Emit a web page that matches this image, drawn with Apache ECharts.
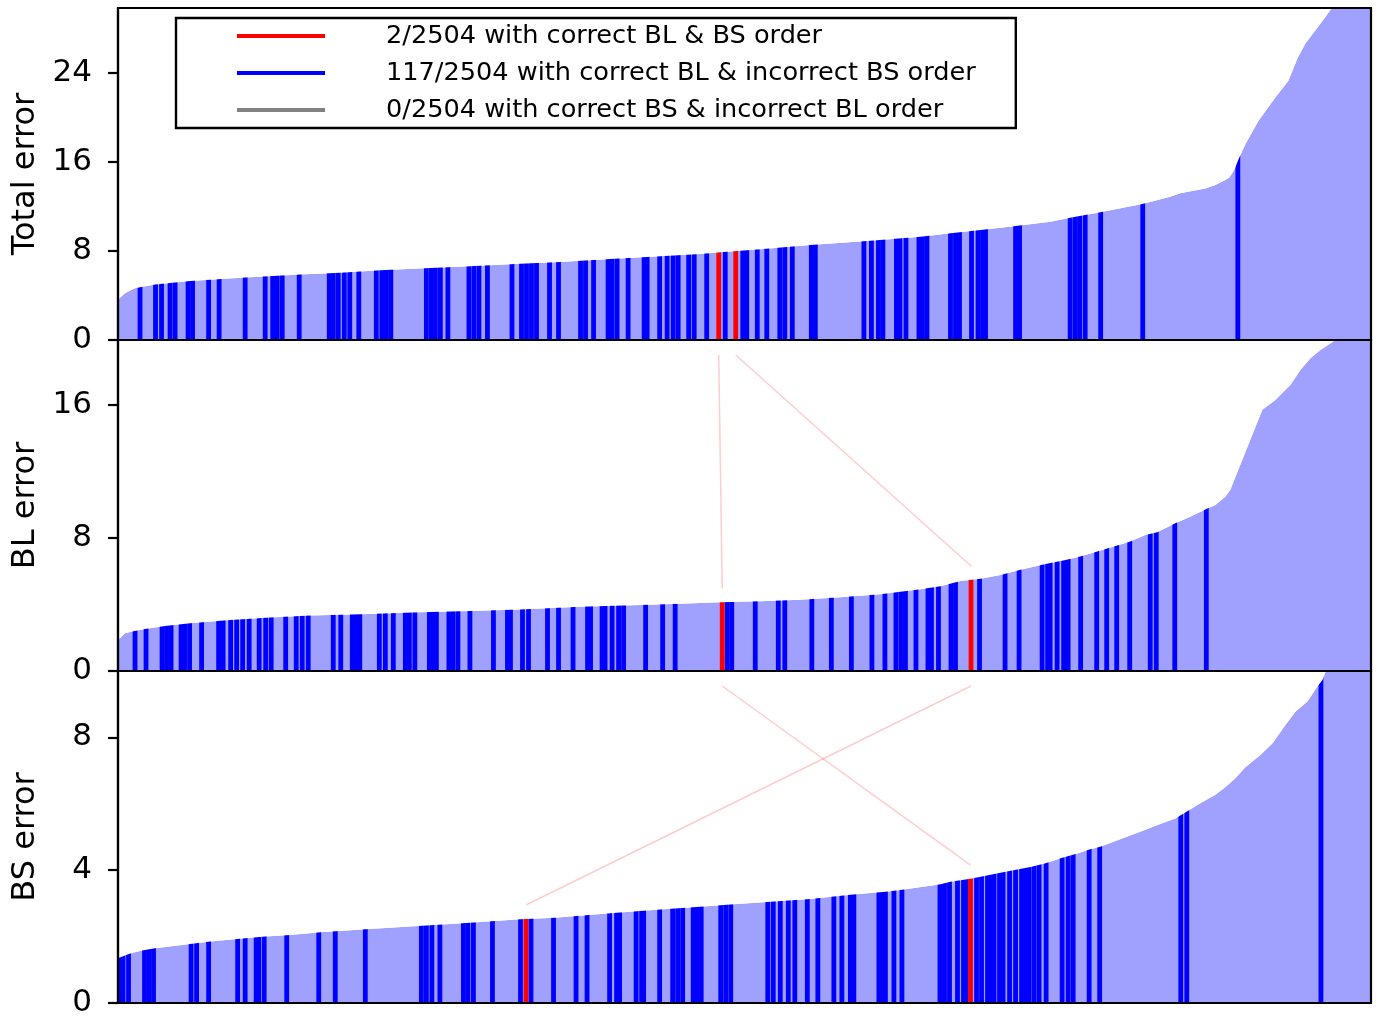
<!DOCTYPE html>
<html><head><meta charset="utf-8">
<script src="https://cdn.jsdelivr.net/npm/echarts@6/dist/echarts.min.js"></script>
<style>html,body{margin:0;padding:0;background:#fff}#c{width:1378px;height:1019px}</style>
</head><body><div id="c"></div>
<script>
// ---------- data (rank along sorted order 0..2503, error value) ----------
const N = 2504;
const totalCurve = [[0,3.6],[5,3.85],[14,4.2],[24,4.45],[34,4.65],[44,4.75],[74,5.0],[144,5.3],[254,5.63],[364,5.9],[444,6.05],[524,6.26],[624,6.47],[703,6.62],[803,6.86],[883,7.01],[983,7.28],[1083,7.52],[1163,7.73],[1203,7.88],[1283,8.15],[1383,8.54],[1503,8.93],[1603,9.29],[1663,9.59],[1723,9.89],[1793,10.25],[1863,10.64],[1902,11.0],[1962,11.48],[2046,12.22],[2102,12.88],[2122,13.2],[2172,13.63],[2192,13.93],[2212,14.38],[2220,14.6],[2230,15.3],[2238,16.2],[2252,17.6],[2278,19.7],[2312,21.8],[2338,23.3],[2356,25.3],[2372,26.65],[2408,28.8],[2424,29.8],[2460,32],[2503,36]];
const blCurve = [[0,1.86],[14,2.27],[28,2.37],[54,2.53],[94,2.71],[144,2.87],[224,3.07],[304,3.21],[384,3.33],[484,3.41],[604,3.53],[703,3.61],[803,3.7],[923,3.87],[1043,3.97],[1123,4.05],[1203,4.13],[1283,4.19],[1363,4.29],[1443,4.43],[1523,4.61],[1603,4.91],[1643,5.09],[1683,5.41],[1723,5.55],[1763,5.77],[1803,6.08],[1853,6.44],[1893,6.68],[1922,6.88],[1956,7.18],[1996,7.54],[2022,7.78],[2052,8.18],[2076,8.34],[2092,8.58],[2112,8.88],[2142,9.28],[2174,9.74],[2192,9.98],[2212,10.48],[2222,10.89],[2242,12.4],[2262,13.9],[2286,15.7],[2312,16.3],[2342,17.2],[2362,18.1],[2382,18.8],[2402,19.3],[2432,19.9],[2503,23]];
const bsCurve = [[0,1.35],[14,1.43],[26,1.5],[48,1.58],[74,1.65],[144,1.78],[184,1.85],[254,1.95],[294,2.0],[344,2.05],[404,2.13],[494,2.22],[624,2.34],[703,2.42],[803,2.52],[873,2.57],[983,2.7],[1083,2.82],[1163,2.9],[1223,2.97],[1303,3.05],[1383,3.13],[1463,3.26],[1533,3.35],[1563,3.4],[1643,3.58],[1663,3.65],[1703,3.74],[1743,3.86],[1783,3.98],[1823,4.1],[1853,4.21],[1883,4.36],[1913,4.49],[1942,4.63],[1962,4.71],[2002,4.93],[2042,5.16],[2082,5.39],[2112,5.56],[2132,5.74],[2162,6.02],[2192,6.27],[2212,6.5],[2232,6.77],[2252,7.1],[2282,7.47],[2306,7.82],[2332,8.37],[2352,8.77],[2376,9.08],[2396,9.53],[2406,9.73],[2414,10.05],[2503,12]];

// ranks of the 117 samples with correct BL & incorrect BS order, in each sorting
const totalBlue = [44,75,87,104,114,140,149,181,202,254,294,309,318,328,362,422,430,440,452,463,481,516,527,536,545,616,626,634,644,659,701,711,721,738,787,806,816,826,836,862,880,924,934,950,979,987,997,1019,1051,1057,1082,1097,1109,1119,1140,1151,1176,1213,1248,1256,1277,1296,1322,1332,1347,1385,1393,1490,1505,1519,1528,1555,1562,1574,1600,1607,1616,1663,1673,1681,1705,1718,1727,1733,1793,1801,1902,1912,1921,1932,1963,2047,2237];
const blBlue = [34,56,88,97,106,126,133,143,167,201,210,225,237,249,262,282,295,306,335,356,368,380,430,445,468,476,483,522,534,550,574,582,593,622,630,636,661,669,679,703,750,778,784,808,820,858,880,909,938,944,967,973,987,1000,1010,1054,1088,1113,1217,1226,1273,1319,1332,1386,1425,1465,1506,1532,1554,1564,1573,1594,1618,1625,1639,1664,1673,1721,1772,1800,1846,1857,1862,1876,1889,1898,1923,1955,1975,1995,2021,2062,2074,2111,2174];
const bsBlue = [5,10,21,53,62,71,146,157,181,239,254,276,281,292,337,401,434,494,606,616,627,643,690,699,710,748,804,825,870,915,937,982,996,1002,1035,1046,1050,1082,1108,1118,1128,1149,1157,1165,1204,1214,1224,1298,1309,1323,1339,1352,1377,1398,1430,1446,1463,1470,1520,1527,1533,1550,1566,1642,1651,1661,1677,1689,1694,1715,1725,1737,1745,1750,1761,1768,1781,1793,1805,1813,1820,1830,1840,1854,1886,1898,1908,1940,1961,2123,2135,2403];

// the 2 samples with correct BL & BS order: [rank, value] per sorting (same sample order)
const redTotal = [[1200,7.88],[1234,7.95]];
const redBL = [[1207,4.13],[1704,5.47]];
const redBS = [[1703,3.73],[815,2.53]];

const yMax = [29.85, 19.9, 10.0];
const yTicks = [[0,8,16,24],[0,8,16],[0,4,8]];
const yNames = ['Total error','BL error','BS error'];
const legendNames = ['2/2504 with correct BL & BS order','117/2504 with correct BL & incorrect BS order','0/2504 with correct BS & incorrect BL order'];
const grayRanks = [];

// ---------- layout ----------
const L = 118, W = 1253;
const tops = [8, 340, 671], heights = [332, 331, 332];
const FONT = 'DejaVu Sans';
const curves = [totalCurve, blCurve, bsCurve];
const blues = [totalBlue, blBlue, bsBlue];
const reds = [redTotal, redBL, redBS];

function barRender(color) {
  return function (params, api) {
    const p = api.coord([api.value(0), 0]);
    const cs = params.coordSys;
    return {type: 'rect', shape: {x: p[0] - 2.4, y: cs.y, width: 4.8, height: p[1] - cs.y}, style: {fill: color}};
  };
}

const grid = [], xAxis = [], yAxis = [], series = [];
for (let i = 0; i < 3; i++) {
  grid.push({left: L, top: tops[i], width: W, height: heights[i], containLabel: false, outerBoundsMode: 'none'});
  xAxis.push({type: 'value', gridIndex: i, min: 0, max: N - 1, show: false});
  yAxis.push({
    type: 'value', gridIndex: i, min: 0, max: yMax[i], interval: yTicks[i][1] - yTicks[i][0], z: 10,
    axisLine: {show: true, lineStyle: {color: '#000', width: 2.2}},
    axisTick: {show: true, length: 10, lineStyle: {color: '#000', width: 2.2}, customValues: yTicks[i]},
    axisLabel: {customValues: yTicks[i], margin: 26, fontSize: 31, color: '#000', fontFamily: FONT, padding: [4, 0, 0, 0]},
    splitLine: {show: false},
    name: yNames[i], nameLocation: 'middle', nameRotate: 90, nameGap: 76,
    nameTextStyle: {fontSize: 32, color: '#000', fontFamily: FONT}
  });
  series.push({type: 'line', xAxisIndex: i, yAxisIndex: i, data: curves[i], symbol: 'none', silent: true,
    lineStyle: {width: 0}, areaStyle: {color: '#a0a0ff', opacity: 1}, z: 1, clip: true});
  series.push({type: 'custom', name: legendNames[1], xAxisIndex: i, yAxisIndex: i, data: blues[i].map(r => [r]),
    renderItem: barRender('#0000ff'), itemStyle: {color: '#0000ff'}, clip: true, z: 2, silent: true});
  series.push({type: 'custom', name: legendNames[0], xAxisIndex: i, yAxisIndex: i, data: reds[i].map(d => [d[0]]),
    renderItem: barRender('#ff0000'), itemStyle: {color: '#ff0000'}, clip: true, z: 2, silent: true});
  series.push({type: 'line', xAxisIndex: i, yAxisIndex: i, data: curves[i], symbol: 'none', silent: true,
    lineStyle: {width: 0}, areaStyle: {color: '#ffffff', opacity: 1, origin: 'end'}, z: 3, clip: true});
}
series.push({type: 'custom', name: legendNames[2], xAxisIndex: 0, yAxisIndex: 0, data: grayRanks.map(r => [r]),
  renderItem: barRender('#808080'), itemStyle: {color: '#808080'}, z: 2});

const frames = [];
for (let i = 0; i < 3; i++) {
  frames.push({type: 'rect', z: 100, silent: true, shape: {x: L, y: tops[i], width: W, height: heights[i]},
    style: {fill: 'none', stroke: '#000', lineWidth: 2.2}});
}

const chart = echarts.init(document.getElementById('c'), null, {renderer: 'canvas'});
chart.setOption({
  animation: false,
  backgroundColor: '#fff',
  grid, xAxis, yAxis, series,
  legend: {
    left: 176, top: 18, orient: 'vertical', padding: [3, 40, 3, 61], itemGap: 7,
    itemWidth: 88, itemHeight: 4, borderColor: '#000', borderWidth: 2.4, borderRadius: 0,
    backgroundColor: '#fff', selectedMode: false, z: 50,
    data: legendNames.map(n => ({name: n, icon: 'rect'})),
    textStyle: {fontSize: 25.6, fontFamily: FONT, color: '#000', lineHeight: 30, padding: [0, 0, 0, 56]}
  },
  graphic: frames
});

// connectors between the same samples in consecutive sortings
const links = [];
const panels = [redTotal, redBL, redBS];
for (let i = 0; i < 2; i++) {
  for (let k = 0; k < 2; k++) {
    const a = chart.convertToPixel({gridIndex: i}, [panels[i][k][0], 0]);
    const b = chart.convertToPixel({gridIndex: i + 1}, [panels[i + 1][k][0], panels[i + 1][k][1]]);
    links.push({type: 'line', z: 90, silent: true,
      shape: {x1: a[0], y1: a[1] + 15, x2: b[0], y2: b[1] - 14},
      style: {stroke: 'rgba(255,0,0,0.2)', lineWidth: 1.5}});
  }
}
chart.setOption({graphic: frames.concat(links)});
</script>
</body></html>
